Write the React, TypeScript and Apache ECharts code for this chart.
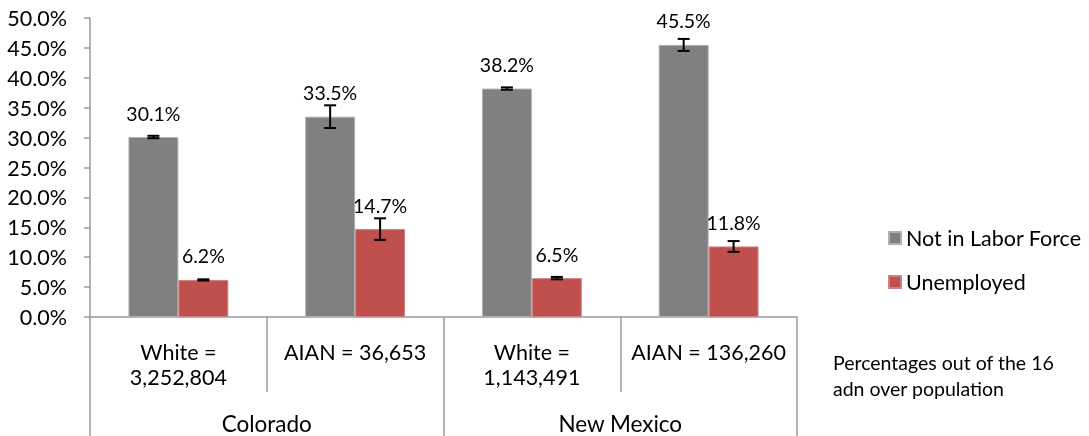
import React, { useEffect, useRef } from "react";
import * as echarts from "echarts";

const categories = ["White =\n3,252,804", "AIAN = 36,653", "White =\n1,143,491", "AIAN = 136,260"];
const states = ["Colorado", "New Mexico"];
const seriesNames = ["Not in Labor Force", "Unemployed"];
const notInLaborForce = [30.1, 33.5, 38.2, 45.5];
const unemployed = [6.2, 14.7, 6.5, 11.8];
const notInLaborForceErr = [0.2, 1.9, 0.2, 1.0];
const unemployedErr = [0.1, 1.8, 0.2, 0.9];
const yTicks = [0, 5, 10, 15, 20, 25, 30, 35, 40, 45, 50];
const note = "Percentages out of the 16\nadn over population";

const FONT = "Lato";
const GAP = 0.435;
const AXIS_COLOR = "#9a9a9a";

function errorSeries(values: number[], errs: number[], side: number) {
  return {
    type: "custom",
    z: 10,
    silent: true,
    encode: { x: 0, y: [1, 2] },
    data: values.map((v, i) => [i, v - errs[i], v + errs[i]]),
    renderItem: (params: any, api: any) => {
      const idx = api.value(0);
      const lo = api.coord([idx, api.value(1)]);
      const hi = api.coord([idx, api.value(2)]);
      const band = api.size([1, 0])[0];
      const barW = (band * (1 - GAP)) / 2;
      const x = lo[0] + (side * barW) / 2;
      const cap = 6;
      const style = { stroke: "#000", lineWidth: 2, fill: "none" };
      return {
        type: "group",
        children: [
          { type: "line", shape: { x1: x, y1: lo[1], x2: x, y2: hi[1] }, style },
          { type: "line", shape: { x1: x - cap, y1: lo[1], x2: x + cap, y2: lo[1] }, style },
          { type: "line", shape: { x1: x - cap, y1: hi[1], x2: x + cap, y2: hi[1] }, style },
        ],
      };
    },
  };
}

export default function App() {
  const ref = useRef<HTMLDivElement>(null);
  useEffect(() => {
    if (!ref.current) return;
    const chart = echarts.init(ref.current, null, { renderer: "svg" });
    const labelCfg = {
      show: true,
      position: "top",
      distance: 14,
      color: "#000",
      fontFamily: FONT,
      fontSize: 19.5,
      formatter: (p: any) => p.value.toFixed(1) + "%",
    };
    chart.setOption({
      animation: false,
      textStyle: { fontFamily: FONT },
      grid: { left: 90, top: 18, width: 707, height: 299, containLabel: false },
      legend: {
        orient: "vertical",
        left: 883,
        top: 222,
        itemWidth: 12,
        itemHeight: 12,
        itemGap: 22,
        icon: "rect",
        data: seriesNames,
        textStyle: { fontFamily: FONT, fontSize: 21.5, color: "#000" },
      },
      xAxis: [
        {
          type: "category",
          data: categories,
          axisLine: { lineStyle: { color: AXIS_COLOR, width: 1.5 } },
          axisTick: { show: true, length: 75, lineStyle: { color: AXIS_COLOR, width: 1.5 } },
          axisLabel: {
            color: "#000",
            fontFamily: FONT,
            fontSize: 21.5,
            lineHeight: 25,
            margin: 22,
            interval: 0,
          },
        },
        {
          type: "category",
          data: states,
          position: "bottom",
          offset: 75,
          axisLine: { show: false },
          axisTick: { show: true, length: 44, lineStyle: { color: AXIS_COLOR, width: 1.5 } },
          axisLabel: { color: "#000", fontFamily: FONT, fontSize: 22.5, margin: 20, interval: 0 },
        },
      ],
      yAxis: {
        type: "value",
        min: yTicks[0],
        max: yTicks[yTicks.length - 1],
        interval: 5,
        splitLine: { show: false },
        axisLine: { show: true, lineStyle: { color: AXIS_COLOR, width: 1.5 } },
        axisTick: { show: true, length: 6, lineStyle: { color: AXIS_COLOR, width: 1.5 } },
        axisLabel: {
          color: "#000",
          fontFamily: FONT,
          fontSize: 21.5,
          margin: 23,
          formatter: (v: number) => v.toFixed(1) + "%",
        },
      },
      series: [
        {
          name: seriesNames[0],
          type: "bar",
          data: notInLaborForce,
          barGap: "0%",
          barCategoryGap: GAP * 100 + "%",
          itemStyle: { color: "#808080", borderColor: "#b0b0b0", borderWidth: 1 },
          label: labelCfg,
        },
        {
          name: seriesNames[1],
          type: "bar",
          data: unemployed,
          barGap: "0%",
          barCategoryGap: GAP * 100 + "%",
          itemStyle: { color: "#c0504d", borderColor: "#d08080", borderWidth: 1 },
          label: labelCfg,
        },
        errorSeries(notInLaborForce, notInLaborForceErr, -1),
        errorSeries(unemployed, unemployedErr, 1),
      ],
      graphic: [
        {
          type: "text",
          left: 833,
          top: 349,
          style: { text: note, fontFamily: FONT, fontSize: 19.5, lineHeight: 26, fill: "#000" },
        },
      ],
    });
    return () => chart.dispose();
  }, []);
  return <div ref={ref} style={{ position: "fixed", left: 0, top: 0, width: 1089, height: 436 }} />;
}
